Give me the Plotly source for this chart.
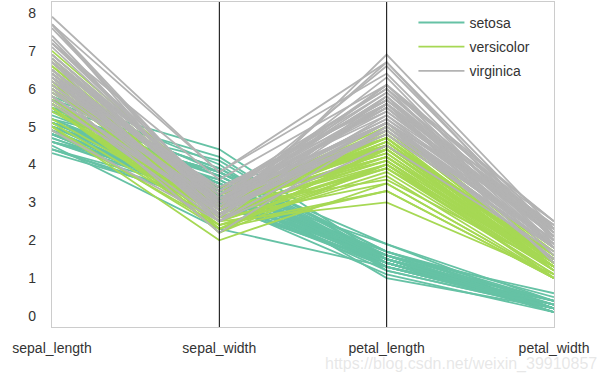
import plotly.graph_objects as go

columns = ["sepal_length", "sepal_width", "petal_length", "petal_width"]
species_names = ["setosa", "versicolor", "virginica"]
species_colors = ["#66c2a5", "#a6d854", "#b3b3b3"]

sepal_length = [
    5.1,4.9,4.7,4.6,5.0,5.4,4.6,5.0,4.4,4.9,5.4,4.8,4.8,4.3,5.8,5.7,5.4,5.1,5.7,5.1,
    5.4,5.1,4.6,5.1,4.8,5.0,5.0,5.2,5.2,4.7,4.8,5.4,5.2,5.5,4.9,5.0,5.5,4.9,4.4,5.1,
    5.0,4.5,4.4,5.0,5.1,4.8,5.1,4.6,5.3,5.0,
    7.0,6.4,6.9,5.5,6.5,5.7,6.3,4.9,6.6,5.2,5.0,5.9,6.0,6.1,5.6,6.7,5.6,5.8,6.2,5.6,
    5.9,6.1,6.3,6.1,6.4,6.6,6.8,6.7,6.0,5.7,5.5,5.5,5.8,6.0,5.4,6.0,6.7,6.3,5.6,5.5,
    5.5,6.1,5.8,5.0,5.6,5.7,5.7,6.2,5.1,5.7,
    6.3,5.8,7.1,6.3,6.5,7.6,4.9,7.3,6.7,7.2,6.5,6.4,6.8,5.7,5.8,6.4,6.5,7.7,7.7,6.0,
    6.9,5.6,7.7,6.3,6.7,7.2,6.2,6.1,6.4,7.2,7.4,7.9,6.4,6.3,6.1,7.7,6.3,6.4,6.0,6.9,
    6.7,6.9,5.8,6.8,6.7,6.7,6.3,6.5,6.2,5.9,
]
sepal_width = [
    3.5,3.0,3.2,3.1,3.6,3.9,3.4,3.4,2.9,3.1,3.7,3.4,3.0,3.0,4.0,4.4,3.9,3.5,3.8,3.8,
    3.4,3.7,3.6,3.3,3.4,3.0,3.4,3.5,3.4,3.2,3.1,3.4,4.1,4.2,3.1,3.2,3.5,3.1,3.0,3.4,
    3.5,2.3,3.2,3.5,3.8,3.0,3.8,3.2,3.7,3.3,
    3.2,3.2,3.1,2.3,2.8,2.8,3.3,2.4,2.9,2.7,2.0,3.0,2.2,2.9,2.9,3.1,3.0,2.7,2.2,2.5,
    3.2,2.8,2.5,2.8,2.9,3.0,2.8,3.0,2.9,2.6,2.4,2.4,2.7,2.7,3.0,3.4,3.1,2.3,3.0,2.5,
    2.6,3.0,2.6,2.3,2.7,3.0,2.9,2.9,2.5,2.8,
    3.3,2.7,3.0,2.9,3.0,3.0,2.5,2.9,2.5,3.6,3.2,2.7,3.0,2.5,2.8,3.2,3.0,3.8,2.6,2.2,
    3.2,2.8,2.8,2.7,3.3,3.2,2.8,3.0,2.8,3.0,2.8,3.8,2.8,2.8,2.6,3.0,3.4,3.1,3.0,3.1,
    3.1,3.1,2.7,3.2,3.3,3.0,2.5,3.0,3.4,3.0,
]
petal_length = [
    1.4,1.4,1.3,1.5,1.4,1.7,1.4,1.5,1.4,1.5,1.5,1.6,1.4,1.1,1.2,1.5,1.3,1.4,1.7,1.5,
    1.7,1.5,1.0,1.7,1.9,1.6,1.6,1.5,1.4,1.6,1.6,1.5,1.5,1.4,1.5,1.2,1.3,1.5,1.3,1.5,
    1.3,1.3,1.3,1.6,1.9,1.4,1.6,1.4,1.5,1.4,
    4.7,4.5,4.9,4.0,4.6,4.5,4.7,3.3,4.6,3.9,3.5,4.2,4.0,4.7,3.6,4.4,4.5,4.1,4.5,3.9,
    4.8,4.0,4.9,4.7,4.3,4.4,4.8,5.0,4.5,3.5,3.8,3.7,3.9,5.1,4.5,4.5,4.7,4.4,4.1,4.0,
    4.4,4.6,4.0,3.3,4.2,4.2,4.2,4.3,3.0,4.1,
    6.0,5.1,5.9,5.6,5.8,6.6,4.5,6.3,5.8,6.1,5.1,5.3,5.5,5.0,5.1,5.3,5.5,6.7,6.9,5.0,
    5.7,4.9,6.7,4.9,5.7,6.0,4.8,4.9,5.6,5.8,6.1,6.4,5.6,5.1,5.6,6.1,5.6,5.5,4.8,5.4,
    5.6,5.1,5.1,5.9,5.7,5.2,5.0,5.2,5.4,5.1,
]
petal_width = [
    0.2,0.2,0.2,0.2,0.2,0.4,0.3,0.2,0.2,0.1,0.2,0.2,0.1,0.1,0.2,0.4,0.4,0.3,0.3,0.3,
    0.2,0.4,0.2,0.5,0.2,0.2,0.4,0.2,0.2,0.2,0.2,0.4,0.1,0.2,0.1,0.2,0.2,0.1,0.2,0.2,
    0.3,0.3,0.2,0.6,0.4,0.3,0.2,0.2,0.2,0.2,
    1.4,1.5,1.5,1.3,1.5,1.3,1.6,1.0,1.3,1.4,1.0,1.5,1.0,1.4,1.3,1.4,1.5,1.0,1.5,1.1,
    1.8,1.3,1.5,1.2,1.3,1.4,1.4,1.7,1.5,1.0,1.1,1.0,1.2,1.6,1.5,1.6,1.5,1.3,1.3,1.3,
    1.2,1.4,1.2,1.0,1.3,1.2,1.3,1.3,1.1,1.3,
    2.5,1.9,2.1,1.8,2.2,2.1,1.7,1.8,1.8,2.5,2.0,1.9,2.1,2.0,2.4,2.3,1.8,2.2,2.3,1.5,
    2.3,2.0,2.0,1.8,2.1,1.8,1.8,1.8,2.1,1.6,1.9,2.0,2.2,1.5,1.4,2.3,2.4,1.8,1.8,2.1,
    2.4,2.3,1.9,2.3,2.5,2.3,1.9,2.0,2.3,1.8,
]
species = ["setosa"] * 50 + ["versicolor"] * 50 + ["virginica"] * 50

fig = go.Figure()
xpos = list(range(len(columns)))
for name, color in zip(species_names, species_colors):
    xs, ys = [], []
    for i, sp in enumerate(species):
        if sp != name:
            continue
        xs += xpos + [None]
        ys += [sepal_length[i], sepal_width[i], petal_length[i], petal_width[i], None]
    fig.add_trace(go.Scatter(
        x=xs, y=ys, mode="lines", name=name, legendgroup=name,
        line=dict(color=color, width=1.8), connectgaps=False,
    ))

for xv in xpos[1:-1]:
    fig.add_shape(type="line", xref="x", yref="paper", x0=xv, x1=xv, y0=0, y1=1,
                  line=dict(color="black", width=1), layer="above")

fig.add_annotation(text="https://blog.csdn.net/weixin_39910857", xref="paper", yref="paper",
                   x=1.09, y=-0.115, xanchor="right", yanchor="middle", showarrow=False,
                   font=dict(family="Liberation Sans, Arial", size=16, color="rgba(215,215,215,0.6)"))

fig.update_layout(
    width=610, height=375,
    margin=dict(l=52, r=56, t=2, b=48, autoexpand=False),
    paper_bgcolor="white", plot_bgcolor="white",
    font=dict(family="Liberation Sans, Arial", size=14, color="#333333"),
    showlegend=True,
    legend=dict(x=0.72, y=0.985, xanchor="left", yanchor="top", bgcolor="rgba(0,0,0,0)",
                font=dict(size=14, color="#333333"), tracegroupgap=3, itemwidth=46),
    xaxis=dict(range=[0, 3], tickmode="array", tickvals=xpos, ticktext=columns,
               showgrid=False, zeroline=False, showline=True, linecolor="#cccccc", linewidth=1.25,
               mirror=True, ticks="", ticklabelstandoff=8, automargin=False),
    yaxis=dict(range=[-0.29, 8.29], tickmode="array", tickvals=list(range(9)),
               showgrid=False, zeroline=False, showline=True, linecolor="#cccccc", linewidth=1.25,
               mirror=True, ticks="", ticklabelstandoff=12, automargin=False),
)

fig.write_html("out.html", config={"displayModeBar": False},
               post_script="document.body.style.margin='0';")
